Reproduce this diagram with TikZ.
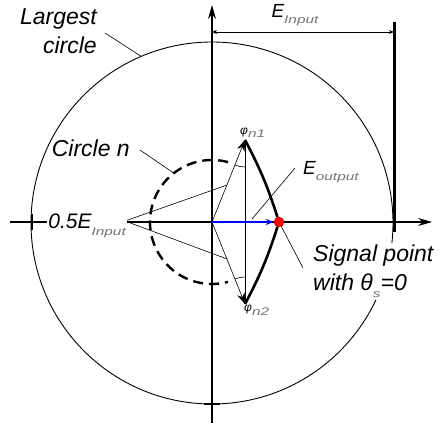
\documentclass[tikz,border=0pt]{standalone}
\usepackage{fontspec}
\setmainfont{Liberation Sans}
\usetikzlibrary{arrows.meta,calc,positioning}
\newcommand{\subtxt}[1]{\raisebox{-0.55ex}{\scalebox{1.4}[1]{\fontsize{11}{11}\selectfont\color{black!55}#1}}}

\begin{document}
\begin{tikzpicture}[x=1pt, y=1pt, >={Stealth[length=14pt,width=8pt]},
    lbl/.style={font=\itshape\fontsize{23}{29}\selectfont, inner sep=0pt, align=left},
    elbl/.style={font=\itshape\fontsize{19}{19}\selectfont, inner sep=0pt},
    leader/.style={line width=0.6pt},
    axis/.style={line width=1.1pt}]
    \useasboundingbox (-212,-203) rectangle (229,222);

    % --- Assi e cerchio massimo ---
    \coordinate (O) at (0,0);
    \coordinate (C) at (0,-1);
    \draw[line width=0.9pt] (C) circle (181);
    \coordinate (ybot) at (0,-201);
    \coordinate (ytop) at (0,217);
    \coordinate (xleft) at (-202,0);
    \coordinate (xright) at (220,0);
    \draw[axis, ->] (ybot) -- (ytop);
    \draw[axis, ->] (xleft) -- (xright);
    \draw[axis] (-180,-8) -- (-180,8);
    \draw[axis] (-8,-182) -- (8,-182);

    % --- E input ---
    \coordinate (rtop) at (182,200);
    \coordinate (rbot) at (182,-10);
    \draw[line width=3pt] (rtop) -- (rbot);
    \coordinate (ein1) at (0,190);
    \coordinate (ein2) at (182,190);
    \draw[leader, {Stealth[length=5pt,width=4pt]}-{Stealth[length=5pt,width=4pt]}] (ein1) -- (ein2);
    \node[elbl] (ein) at (83,207) {E\subtxt{Input}};

    % --- Cerchio n ---
    \draw[line width=2.4pt, dash pattern=on 10pt off 6pt] (75:62) arc (75:285:62);

    % --- Punti ---
    \coordinate (P1) at (33,82);
    \coordinate (P2) at (33,-82);
    \coordinate (A) at (-87,1);
    \node[circle, fill=red, draw=red!70!black, line width=0.4pt, minimum size=10pt, inner sep=0pt] (S) at (67,0) {};

    \draw[leader] (P1) -- (P2);
    \draw[leader, -{Stealth[length=11pt,width=8pt]}] (O) -- (P1);
    \draw[leader, -{Stealth[length=11pt,width=8pt]}] (O) -- (P2);
    \draw[leader] (A) -- ($(O)!0.45!(P1)$);
    \draw[leader] (A) -- ($(O)!0.45!(P2)$);
    \draw[leader] ($(P1)+(248:27)$) arc (248:270:27);
    \draw[leader] ($(P2)+(90:27)$) arc (90:112:27);

    \draw[line width=2.6pt] (S) to[bend right=5] (P1);
    \draw[line width=2.6pt] (S) to[bend left=5] (P2);
    \draw[blue, line width=1.2pt, -{Stealth[length=8pt,width=6pt]}] (O) -- (S);

    \node[font=\itshape\fontsize{12}{12}\selectfont, inner sep=0pt, anchor=south west] (phi1) at ([xshift=-5pt,yshift=2pt]P1) {φ\subtxt{n1}};
    \node[font=\itshape\fontsize{12}{12}\selectfont, inner sep=0pt, anchor=north west] (phi2) at ([xshift=-1pt,yshift=-1pt]P2) {φ\subtxt{n2}};

    % --- Etichette ---
    \node[lbl, align=right, anchor=east] (big) at (-115,191) {Largest\\circle};
    \coordinate (bigpt) at ($(C)+(113:181)$);
    \draw[leader] ([xshift=8pt,yshift=-2pt]big.east) -- (bigpt);

    \node[lbl, anchor=east] (cn) at (-82,74) {Circle n};
    \coordinate (cnpt) at (128:62);
    \draw[leader] ([xshift=10pt,yshift=-2pt]cn.east) -- (cnpt);

    \node[lbl, font=\itshape\fontsize{21}{21}\selectfont, fill=white, inner xsep=1pt, anchor=base east] (half) at (-85,-7) {0.5E\subtxt{Input}};

    \node[elbl, anchor=west] (eout) at (91,50) {E\subtxt{output}};
    \coordinate (eoutpt) at (40,3);
    \draw[leader] ([xshift=-8pt,yshift=4pt]eout.west) -- (eoutpt);

    \node[lbl, fill=white, inner ysep=2pt, anchor=north west] (sig) at (101,-21) {Signal point\\with θ\subtxt{s}=0};
    \coordinate (sigpt) at (91,-46);
    \draw[leader] (S) -- (sigpt);
\end{tikzpicture}
\end{document}
